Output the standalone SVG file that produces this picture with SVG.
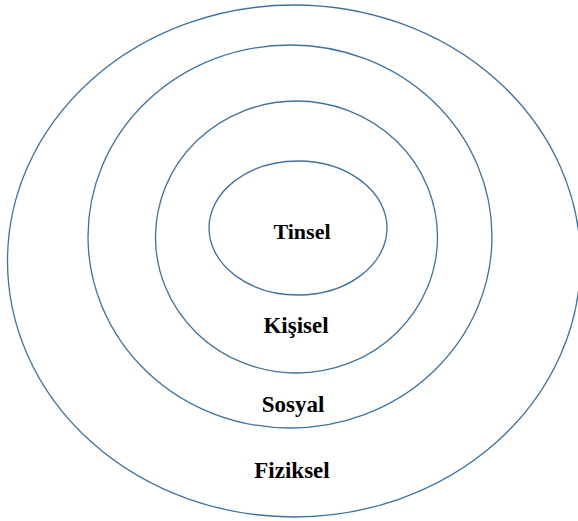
<svg xmlns="http://www.w3.org/2000/svg" width="578" height="521" viewBox="0 0 578 521">
<style>
.ring{fill:none;stroke:#41719C;stroke-width:1.3}
.lbl{font-family:"Liberation Serif","Times New Roman",serif;font-weight:bold;font-size:23px;fill:#000;text-anchor:middle}
</style>
<rect width="578" height="521" fill="#fff"/>
<g id="fiziksel">
<ellipse class="ring" cx="294" cy="261" rx="286.5" ry="256"/>
<text class="lbl" x="292" y="478">Fiziksel</text>
</g>
<g id="sosyal">
<ellipse class="ring" cx="290" cy="236.5" rx="202" ry="191.5"/>
<text class="lbl" x="293" y="412">Sosyal</text>
</g>
<g id="kisisel">
<ellipse class="ring" cx="296.5" cy="237" rx="141" ry="136"/>
<text class="lbl" x="296" y="333">Kişisel</text>
</g>
<g id="tinsel">
<ellipse class="ring" cx="298" cy="228" rx="89" ry="67"/>
<text class="lbl" x="302" y="239" style="font-size:22px">Tinsel</text>
</g>
<g id="connectors"/>
</svg>
